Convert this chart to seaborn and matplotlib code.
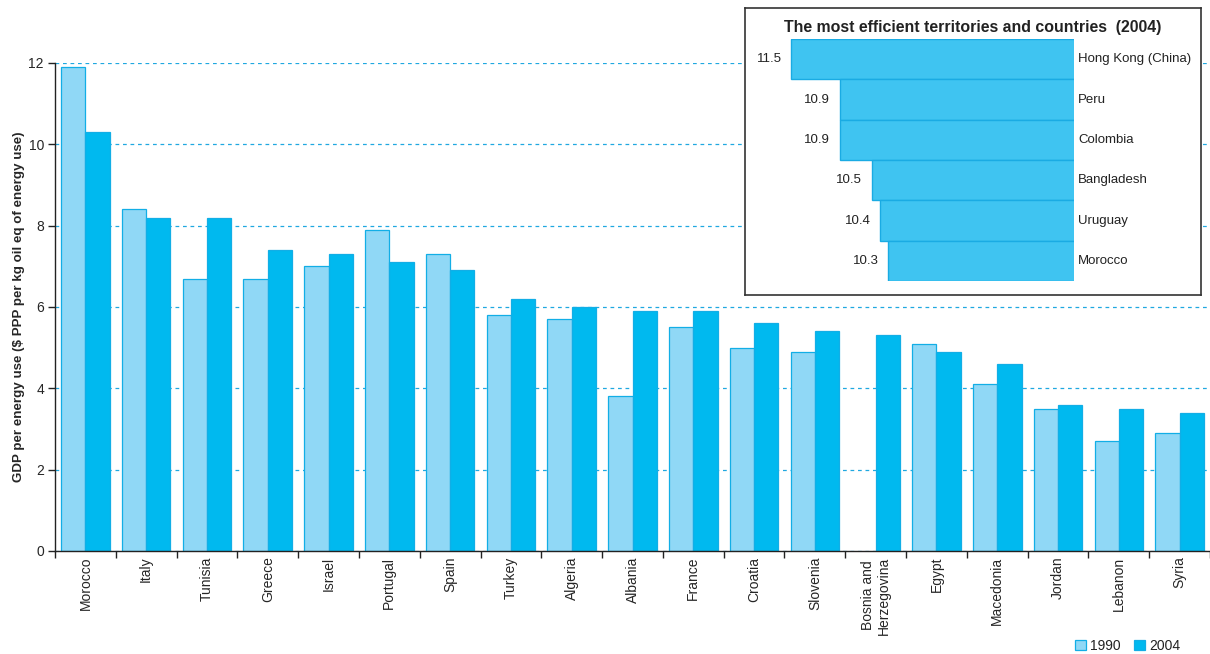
import pandas as pd
import seaborn as sns
import matplotlib.pyplot as plt
from matplotlib.ticker import FixedLocator

# ---------------------------------------
# 1. Data
# ---------------------------------------
countries = ["Morocco", "Italy", "Tunisia", "Greece", "Israel", "Portugal", "Spain",
             "Turkey", "Algeria", "Albania", "France", "Croatia", "Slovenia",
             "Bosnia and\nHerzegovina", "Egypt", "Macedonia", "Jordan", "Lebanon", "Syria"]
gdp_1990 = [11.9, 8.4, 6.7, 6.7, 7.0, 7.9, 7.3, 5.8, 5.7, 3.8, 5.5, 5.0, 4.9,
            None, 5.1, 4.1, 3.5, 2.7, 2.9]
gdp_2004 = [10.3, 8.2, 8.2, 7.4, 7.3, 7.1, 6.9, 6.2, 6.0, 5.9, 5.9, 5.6, 5.4,
            5.3, 4.9, 4.6, 3.6, 3.5, 3.4]

top_names = ["Hong Kong (China)", "Peru", "Colombia", "Bangladesh", "Uruguay", "Morocco"]
top_values = [11.5, 10.9, 10.9, 10.5, 10.4, 10.3]

df = pd.DataFrame({
    "Country": countries * 2,
    "Year": ["1990"] * len(countries) + ["2004"] * len(countries),
    "GDP": gdp_1990 + gdp_2004,
})
df["GDP"] = df["GDP"].astype(float)
top = pd.DataFrame({"Name": top_names, "Value": top_values})

# ---------------------------------------
# 2. Theme
# ---------------------------------------
sns.set_theme(style="white")
plt.rcParams["font.family"] = ["Liberation Sans", "DejaVu Sans"]
plt.rcParams["text.color"] = "#222222"

light = "#90d8f6"
dark = "#00b9ef"
edge = "#12aee6"

fig = plt.figure(figsize=(12.1, 6.54), dpi=100)
W, H = 1210, 654

# ---------------------------------------
# 3. Main grouped bar chart
# ---------------------------------------
ax = fig.add_axes([55 / W, 1 - 551 / H, (1210 - 55) / W, (551 - 63) / H])
sns.barplot(data=df, x="Country", y="GDP", hue="Year",
            palette={"1990": light, "2004": dark}, saturation=1,
            edgecolor=edge, linewidth=0.9, width=0.8, ax=ax)

ax.set_xlim(-0.5, len(countries) - 0.5)
ax.set_ylim(0, 12)
ax.set_yticks([0, 2, 4, 6, 8, 10, 12])
ax.yaxis.grid(True, linestyle=(0, (3, 3)), color="#20a8e0", linewidth=0.9)
ax.set_axisbelow(True)
for s in ["top", "right"]:
    ax.spines[s].set_visible(False)
for s in ["left", "bottom"]:
    ax.spines[s].set_color("#222222")
    ax.spines[s].set_linewidth(1.0)

ax.set_xticks(range(len(countries)))
ax.set_xticklabels(countries, rotation=90, fontsize=10, va="top", ha="center")
ax.tick_params(axis="x", which="major", length=0, pad=4)
ax.xaxis.set_minor_locator(FixedLocator([i - 0.5 for i in range(len(countries) + 1)]))
ax.tick_params(axis="x", which="minor", length=5, width=1, color="#222222", direction="out")
ax.tick_params(axis="y", length=5, width=1, color="#222222", direction="out", labelsize=10, pad=3)
ax.tick_params(axis="both", bottom=True, left=True, which="both")

ax.set_xlabel("")
ax.set_ylabel("GDP per energy use ($ PPP per kg oil eq of energy use)",
              fontsize=9.6, fontweight="bold")
ax.yaxis.set_label_coords(-(55 - 25) / (1210 - 55), 0.5)

handles, labels = ax.get_legend_handles_labels()
ax.get_legend().remove()
fig.legend(handles, labels, loc="lower right", bbox_to_anchor=(1180 / W, 1 / H), ncol=2,
           frameon=False, fontsize=10, handlelength=0.8, handleheight=0.8,
           handletextpad=0.3, columnspacing=0.9, borderaxespad=0.0, borderpad=0.0)

# ---------------------------------------
# 4. Inset: most efficient countries
# ---------------------------------------
box = fig.add_axes([745 / W, 1 - 295 / H, (1201 - 745) / W, (295 - 8) / H])
box.set_xticks([])
box.set_yticks([])
box.set_facecolor("white")
for s in box.spines.values():
    s.set_color("#333333")
    s.set_linewidth(1.2)
box.set_title("The most efficient territories and countries  (2004)",
              fontsize=11.4, fontweight="bold", y=1.0, pad=-17)

px_per_unit = 80.8
left_px = 1074 - 3.65 * px_per_unit
inset = fig.add_axes([left_px / W, 1 - 281 / H, (1074 - left_px) / W, (281 - 39) / H])
sns.barplot(data=top, x="Value", y="Name", orient="h", color="#3fc4f1", saturation=1,
            edgecolor="#1aabe3", linewidth=1.0, width=1.0, ax=inset)
inset.set_xlim(11.65, 8.0)
inset.set_ylim(5.5, -0.5)
inset.axis("off")
for i, (name, val) in enumerate(zip(top_names, top_values)):
    inset.text(val + 0.12, i, f"{val}", ha="right", va="center", fontsize=9.5,
               clip_on=False)
    inset.text(7.95, i, name, ha="left", va="center", fontsize=9.5, clip_on=False)

fig.savefig("out.png", dpi=100)
